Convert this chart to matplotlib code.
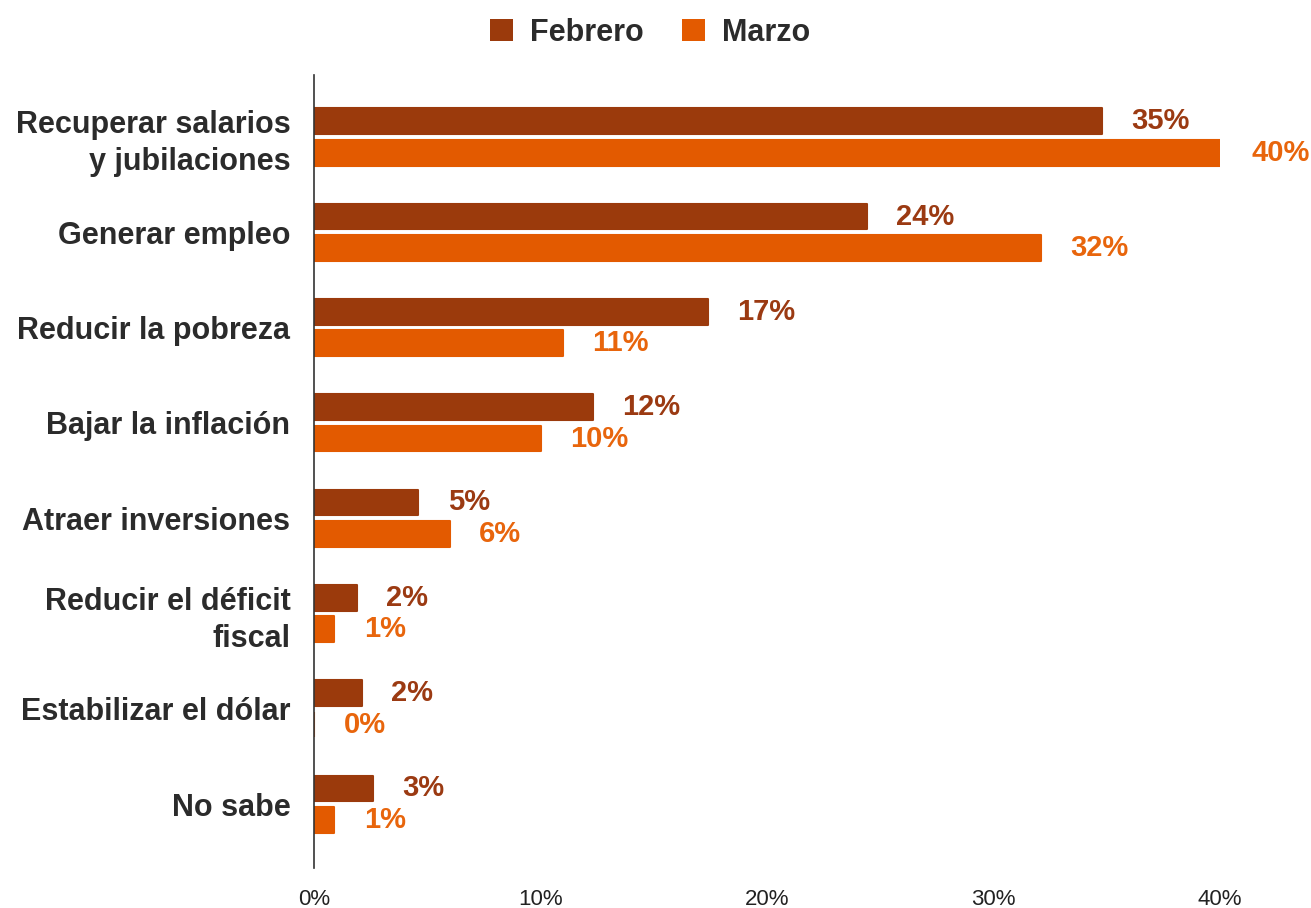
import matplotlib.pyplot as plt
import numpy as np
from matplotlib.patches import Patch

categories = ["Recuperar salarios\ny jubilaciones", "Generar empleo", "Reducir la pobreza",
              "Bajar la inflación", "Atraer inversiones", "Reducir el déficit\nfiscal",
              "Estabilizar el dólar", "No sabe"]
febrero = [34.8, 24.4, 17.4, 12.3, 4.6, 1.9, 2.1, 2.6]
marzo = [40.1, 32.1, 11.0, 10.0, 6.0, 0.9, 0.0, 0.9]
febrero_lbl = ["35%", "24%", "17%", "12%", "5%", "2%", "2%", "3%"]
marzo_lbl = ["40%", "32%", "11%", "10%", "6%", "1%", "0%", "1%"]
ticks = [0, 10, 20, 30, 40]

c_feb = "#9b3a0c"
c_mar = "#e35a00"
c_feb_txt = "#9b3a12"
c_mar_txt = "#e8650c"

plt.rcParams['font.family'] = ['Liberation Sans', 'DejaVu Sans']

fig = plt.figure(figsize=(13.11, 9.08), dpi=100)
ax = fig.add_axes([314 / 1311, 1 - 868 / 908, (1220 - 314) / 1311, (868 - 75) / 908])

y = np.arange(len(categories))
h = 0.27
off = 0.165
ax.barh(y - off, febrero, height=h, color=c_feb, edgecolor=c_feb, linewidth=1.5,
        joinstyle='round')
ax.barh(y + off, marzo, height=h, color=c_mar, edgecolor=c_mar, linewidth=1.5,
        joinstyle='round')

for i in range(len(categories)):
    ax.text(febrero[i] + 1.3, y[i] - off, febrero_lbl[i], color=c_feb_txt, fontsize=21,
            fontweight='bold', va='center', ha='left', clip_on=False)
    ax.text(marzo[i] + 1.3, y[i] + off, marzo_lbl[i], color=c_mar_txt, fontsize=21,
            fontweight='bold', va='center', ha='left', clip_on=False)

ax.set_xlim(0, 40)
ax.set_ylim(7.67, -0.65)
ax.set_yticks(y)
ax.set_yticklabels(categories, fontsize=22, fontweight='bold', color="#2b2b2b",
                   ha='right', multialignment='right', linespacing=1.3)
ax.set_xticks(ticks)
ax.set_xticklabels([f"{t}%" for t in ticks], fontsize=16, color="#222222")
ax.tick_params(axis='both', length=0)
ax.tick_params(axis='y', pad=17)
ax.tick_params(axis='x', pad=15)
for s in ['top', 'right', 'bottom']:
    ax.spines[s].set_visible(False)
ax.spines['left'].set_color("#333333")
ax.spines['left'].set_linewidth(1.2)

handles = [Patch(facecolor=c_feb, label="Febrero"), Patch(facecolor=c_mar, label="Marzo")]
leg = fig.legend(handles=handles, loc='center', bbox_to_anchor=(0.496, 0.964), ncol=2,
                 frameon=False, prop={'size': 22, 'weight': 'bold'}, handlelength=0.75,
                 handleheight=0.75, columnspacing=1.25, handletextpad=0.55)
for t in leg.get_texts():
    t.set_color("#2b2b2b")

fig.savefig("out.png", dpi=100)
